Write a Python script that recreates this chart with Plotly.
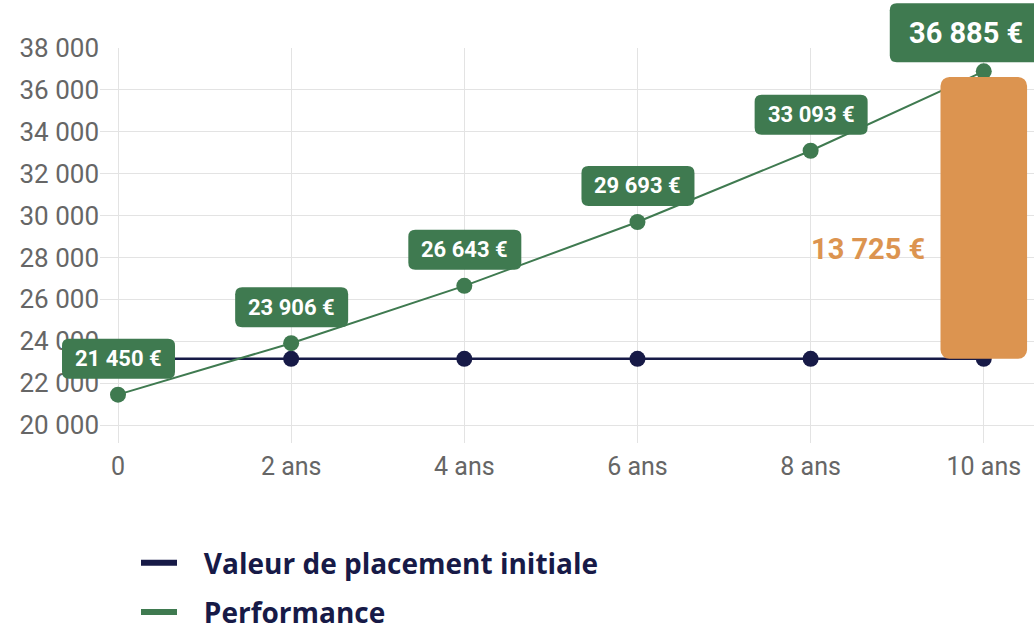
import plotly.graph_objects as go

years = [0, 2, 4, 6, 8, 10]
x_tick_labels = ["0", "2 ans", "4 ans", "6 ans", "8 ans", "10 ans"]
initial_value = [23160, 23160, 23160, 23160, 23160, 23160]
performance = [21450, 23906, 26643, 29693, 33093, 36885]
gain_label = "13 725 €"
bar_year = [10]
bar_base = [23160]
bar_top = [36620]
y_ticks = [20000, 22000, 24000, 26000, 28000, 30000, 32000, 34000, 36000, 38000]

NAVY = "#171a47"
GREEN = "#3f7a50"
ORANGE = "#dc9450"
GRID = "#e3e3e3"
TICK = "#666666"

W, H = 1034, 625
PL, PR, PT, PB = 100, 0, 48, 182  # plot area insets in pixels

def fmt(v):
    return f"{v:,}".replace(",", " ") + " €"

def rounded_box(left, right, bottom, top, r):
    return (f"M{left + r},{bottom} L{right - r},{bottom} Q{right},{bottom} {right},{bottom + r} "
            f"L{right},{top - r} Q{right},{top} {right - r},{top} L{left + r},{top} "
            f"Q{left},{top} {left},{top - r} L{left},{bottom + r} Q{left},{bottom} {left + r},{bottom} Z")

xr = [-0.208, 10.58]
yr = [19141, 38000]
# full-figure helper axes aligned with the main axes (so label boxes are not clipped)
pxu = (W - PL - PR) / (xr[1] - xr[0])
pyu = (H - PT - PB) / (yr[1] - yr[0])
xr_full = [xr[0] - PL / pxu, xr[1] + PR / pxu]
yr_full = [yr[0] - PB / pyu, yr[1] + PT / pyu]

fig = go.Figure()

fig.add_trace(go.Scatter(
    x=years, y=initial_value, mode="lines+markers",
    line=dict(color=NAVY, width=2.5),
    marker=dict(color=NAVY, size=16),
    showlegend=False, cliponaxis=False, hoverinfo="skip"))
fig.add_trace(go.Scatter(
    x=years, y=performance, mode="lines+markers",
    line=dict(color=GREEN, width=2),
    marker=dict(color=GREEN, size=16),
    showlegend=False, cliponaxis=False, hoverinfo="skip"))

NB = "\u00a0"
fig.add_trace(go.Scatter(x=[None], y=[None], mode="lines", name=NB * 3 + "Valeur de placement initiale",
                         line=dict(color=NAVY, width=6), legendgroup="a"))
fig.add_trace(go.Scatter(x=[None], y=[None], mode="lines", name=NB * 3 + "Performance",
                         line=dict(color=GREEN, width=6), legendgroup="b"))

fig.add_trace(go.Bar(
    x=bar_year, y=[t - b for t, b in zip(bar_top, bar_base)], base=bar_base,
    width=1.0, marker=dict(color=ORANGE, cornerradius=9, line=dict(width=0)),
    xaxis="x2", yaxis="y2", showlegend=False, hoverinfo="skip"))

# invisible full-figure subplot used only as reference for the label boxes
fig.add_trace(go.Scatter(x=[None], y=[None], xaxis="x3", yaxis="y3", showlegend=False,
                         hoverinfo="skip"))

xdom = [PL / W, 1 - PR / W]
ydom = [PB / H, 1 - PT / H]

fig.update_layout(
    width=W, height=H,
    margin=dict(l=0, r=0, t=0, b=0, autoexpand=False),
    paper_bgcolor="white", plot_bgcolor="rgba(0,0,0,0)",
    separators=", ",
    showlegend=True,
    legend=dict(
        x=136 / W, y=1 - 538 / H,
        xanchor="left", yanchor="top",
        font=dict(family="Open Sans", size=28, color=NAVY, weight=700),
        tracegroupgap=10, itemwidth=36, bgcolor="rgba(0,0,0,0)"),
    xaxis=dict(
        domain=xdom, range=xr, tickmode="array", tickvals=years, ticktext=x_tick_labels,
        showgrid=True, gridcolor=GRID, gridwidth=1, zeroline=False, showline=False,
        ticks="outside", ticklen=1, tickcolor="rgba(0,0,0,0)", automargin=False,
        tickfont=dict(family="Roboto", size=25, color=TICK), fixedrange=True),
    yaxis=dict(
        domain=ydom, range=yr, tickmode="array", tickvals=y_ticks, tickformat=",d",
        showgrid=True, gridcolor=GRID, gridwidth=1, zeroline=False, showline=False,
        ticks="", automargin=False,
        tickfont=dict(family="Roboto", size=26, color=TICK), fixedrange=True),
    xaxis2=dict(range=xr, overlaying="x", visible=False, fixedrange=True),
    yaxis2=dict(range=yr, overlaying="y", visible=False, fixedrange=True),
    xaxis3=dict(domain=[0, 1], range=xr_full, visible=False, fixedrange=True, anchor="y3"),
    yaxis3=dict(domain=[0, 1], range=yr_full, visible=False, fixedrange=True, anchor="x3"),
)

annotations = []
shapes = []
for i, (x, v) in enumerate(zip(years, performance)):
    big = i == len(years) - 1
    if big:
        left, right, bottom, top = -94, 120, 9, 68
        annotations.append(dict(
            x=x, y=v, xref="x", yref="y", text=fmt(v), showarrow=False,
            xanchor="left", xshift=left + 17, yshift=(bottom + top) / 2,
            font=dict(family="Roboto", size=29, color="white", weight=700)))
    else:
        left, right, bottom, top = -56, 57, 16, 56
        annotations.append(dict(
            x=x, y=v, xref="x", yref="y", text=fmt(v), showarrow=False,
            xshift=(left + right) / 2, yshift=(bottom + top) / 2,
            font=dict(family="Roboto", size=22, color="white", weight=700)))
    shapes.append(dict(
        type="path", xref="x3", yref="y3", xsizemode="pixel", ysizemode="pixel",
        xanchor=x, yanchor=v, path=rounded_box(left, right, bottom, top, 7),
        fillcolor=GREEN, line=dict(width=0), layer="above"))
annotations.append(dict(
    x=bar_year[0] - 0.5, y=28400, xref="x", yref="y", text=gain_label, showarrow=False,
    xanchor="right", xshift=-14,
    font=dict(family="Roboto", size=29, color=ORANGE, weight=700)))
fig.update_layout(annotations=annotations, shapes=shapes)

fig.write_html("out.html", config={"displayModeBar": False})
